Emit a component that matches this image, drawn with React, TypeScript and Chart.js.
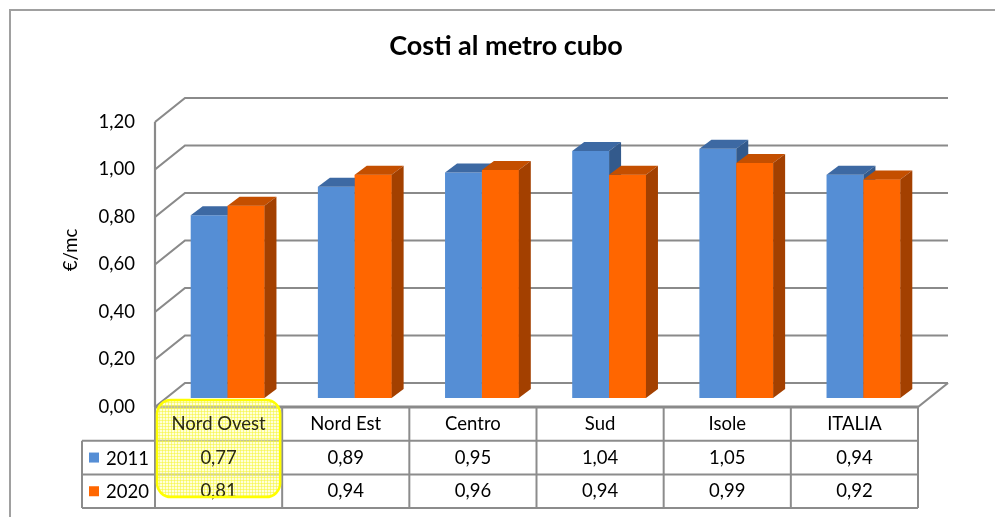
import React, { useEffect, useRef } from 'react';
import { Chart, registerables } from 'chart.js';

Chart.register(...registerables);

// ---- data ----
const categories = ['Nord Ovest', 'Nord Est', 'Centro', 'Sud', 'Isole', 'ITALIA'];
const seriesNames = ['2011', '2020'];
const values2011 = [0.77, 0.89, 0.95, 1.04, 1.05, 0.94];
const values2020 = [0.81, 0.94, 0.96, 0.94, 0.99, 0.92];
const yTicks = [0, 0.2, 0.4, 0.6, 0.8, 1.0, 1.2];
const chartTitle = 'Costi al metro cubo';
const yAxisTitle = '€/mc';

// ---- styles ----
const FONT = 'Lato, "Open Sans", sans-serif';
const frontColors = ['#558ed5', '#ff6600'];
const topColors = ['#3d69a3', '#c44f00'];
const sideColors = ['#335a8c', '#a34000'];
const GRID = '#8a8a8a';
const FRONT_DX = -9, FRONT_DY = 9;
const BACK_DX = 21, BACK_DY = -15;
const BAR_DX = 12, BAR_DY = -9;
const ROW_H = 33.7;

const fmt = (v: number) => v.toFixed(2).replace('.', ',');

function drawFaces(ctx: CanvasRenderingContext2D, bar: any, idx: number) {
  const { x, y, base, width } = bar.getProps(['x', 'y', 'base', 'width'], true);
  const x0 = x - width / 2, x1 = x + width / 2;
  ctx.fillStyle = topColors[idx];
  ctx.beginPath();
  ctx.moveTo(x0, y);
  ctx.lineTo(x1, y);
  ctx.lineTo(x1 + BAR_DX, y + BAR_DY);
  ctx.lineTo(x0 + BAR_DX, y + BAR_DY);
  ctx.closePath();
  ctx.fill();
  ctx.fillStyle = sideColors[idx];
  ctx.beginPath();
  ctx.moveTo(x1, y);
  ctx.lineTo(x1 + BAR_DX, y + BAR_DY);
  ctx.lineTo(x1 + BAR_DX, base + BAR_DY);
  ctx.lineTo(x1, base);
  ctx.closePath();
  ctx.fill();
}

const threeD = {
  id: 'threeD',
  beforeDatasetsDraw(chart: any) {
    const { ctx, chartArea, scales } = chart;
    const y = scales.y;
    ctx.save();
    ctx.strokeStyle = GRID;
    ctx.lineWidth = 2.2;
    const fl = chartArea.left + FRONT_DX, fr = chartArea.right + FRONT_DX;
    const bl = chartArea.left + BACK_DX, br = chartArea.right + BACK_DX;
    yTicks.forEach((v) => {
      const py = y.getPixelForValue(v);
      ctx.beginPath();
      ctx.moveTo(fl, py + FRONT_DY);
      ctx.lineTo(bl, py + BACK_DY);
      ctx.lineTo(br, py + BACK_DY);
      ctx.stroke();
    });
    const yTop = y.getPixelForValue(yTicks[yTicks.length - 1]);
    const y0 = y.getPixelForValue(0);
    ctx.beginPath();
    ctx.moveTo(fl, yTop + FRONT_DY);
    ctx.lineTo(fl, y0 + FRONT_DY);
    ctx.stroke();
    ctx.beginPath();
    ctx.moveTo(fr, y0 + FRONT_DY);
    ctx.lineTo(br, y0 + BACK_DY);
    ctx.stroke();
    ctx.restore();
  },
  afterDatasetsDraw(chart: any) {
    const { ctx } = chart;
    const m0 = chart.getDatasetMeta(0);
    const m1 = chart.getDatasetMeta(1);
    ctx.save();
    m0.data.forEach((bar: any, i: number) => {
      drawFaces(ctx, bar, 0);
      const other = m1.data[i];
      other.draw(ctx, chart.chartArea);
      drawFaces(ctx, other, 1);
    });
    ctx.restore();
  },
  afterDraw(chart: any) {
    const { ctx, chartArea, scales } = chart;
    const { x, y } = scales;
    const y0 = y.getPixelForValue(0);
    const fl = chartArea.left + FRONT_DX, fr = chartArea.right + FRONT_DX;
    const tableTop = y0 + FRONT_DY;
    const catW = x.getPixelForValue(1) - x.getPixelForValue(0);
    const bounds = categories.map((_, i) => x.getPixelForValue(i) - catW / 2 + FRONT_DX);
    bounds.push(fr);
    const legLeft = fl - 73;
    const tableBottom = tableTop + 3 * ROW_H;
    ctx.save();
    // floor front edge
    ctx.strokeStyle = GRID;
    ctx.lineWidth = 3;
    ctx.beginPath();
    ctx.moveTo(fl, tableTop);
    ctx.lineTo(fr, tableTop);
    ctx.stroke();
    // table lines
    ctx.lineWidth = 2;
    ctx.strokeStyle = '#8c8c8c';
    bounds.forEach((bx) => {
      ctx.beginPath();
      ctx.moveTo(bx, tableTop);
      ctx.lineTo(bx, tableBottom);
      ctx.stroke();
    });
    for (let r = 1; r <= 3; r++) {
      const ry = tableTop + r * ROW_H;
      ctx.beginPath();
      ctx.moveTo(legLeft, ry);
      ctx.lineTo(fr, ry);
      ctx.stroke();
    }
    ctx.beginPath();
    ctx.moveTo(legLeft, tableTop + ROW_H);
    ctx.lineTo(legLeft, tableBottom);
    ctx.stroke();
    // highlight fill (under the text)
    const pc = document.createElement('canvas');
    pc.width = 3; pc.height = 3;
    const pctx = pc.getContext('2d')!;
    pctx.fillStyle = 'rgba(255,255,170,0.45)';
    pctx.fillRect(0, 0, 3, 3);
    pctx.fillStyle = 'rgba(245,245,60,0.55)';
    pctx.fillRect(0, 0, 3, 1);
    pctx.fillRect(0, 0, 1, 3);
    const pattern = ctx.createPattern(pc, 'repeat');
    const hx0 = bounds[0] + 2, hx1 = bounds[1] - 2;
    const hy0 = tableTop - 7, hy1 = tableBottom - 11;
    ctx.beginPath();
    ctx.roundRect(hx0, hy0, hx1 - hx0, hy1 - hy0, 14);
    ctx.fillStyle = pattern!;
    ctx.fill();
    // table text
    ctx.font = `18.5px ${FONT}`;
    ctx.textAlign = 'center';
    ctx.textBaseline = 'middle';
    const series = [values2011, values2020];
    categories.forEach((c, i) => {
      const cx = (bounds[i] + bounds[i + 1]) / 2;
      ctx.fillStyle = i === 0 ? '#2b2b10' : '#000';
      ctx.fillText(c, cx, tableTop + ROW_H * 0.5);
      series.forEach((s, si) => {
        ctx.fillText(fmt(s[i]), cx, tableTop + ROW_H * (1.5 + si));
      });
    });
    seriesNames.forEach((n, si) => {
      const cy = tableTop + ROW_H * (1.5 + si);
      ctx.fillStyle = frontColors[si];
      ctx.fillRect(legLeft + 7, cy - 5, 10, 10);
      ctx.fillStyle = '#000';
      ctx.textAlign = 'left';
      ctx.fillText(n, legLeft + 24, cy + 1);
    });
    // highlight border
    ctx.beginPath();
    ctx.roundRect(hx0, hy0, hx1 - hx0, hy1 - hy0, 14);
    ctx.strokeStyle = '#ffff00';
    ctx.lineWidth = 2.5;
    ctx.stroke();
    // axis title
    ctx.save();
    ctx.fillStyle = '#000';
    ctx.translate(71, 250);
    ctx.rotate(-Math.PI / 2);
    ctx.textAlign = 'center';
    ctx.font = `18.5px ${FONT}`;
    ctx.fillText(yAxisTitle, 0, 0);
    ctx.restore();
    // title
    ctx.fillStyle = '#000';
    ctx.font = `bold 27px ${FONT}`;
    ctx.textAlign = 'center';
    ctx.fillText(chartTitle, 506, 46);
    // outer border
    ctx.strokeStyle = '#a0a0a0';
    ctx.lineWidth = 2;
    ctx.beginPath();
    ctx.moveTo(10, 517);
    ctx.lineTo(10, 10);
    ctx.lineTo(995, 10);
    ctx.stroke();
    ctx.restore();
  },
};

export default function App() {
  const ref = useRef<HTMLCanvasElement>(null);
  useEffect(() => {
    const chart = new Chart(ref.current!, {
      type: 'bar',
      data: {
        labels: categories,
        datasets: [
          { label: seriesNames[0], data: values2011, backgroundColor: frontColors[0] },
          { label: seriesNames[1], data: values2020, backgroundColor: frontColors[1] },
        ],
      },
      options: {
        responsive: false,
        animation: false,
        events: [],
        datasets: { bar: { barPercentage: 1, categoryPercentage: 0.58, borderWidth: 0 } },
        layout: { padding: { left: 50, right: 68, top: 113, bottom: 119 } },
        plugins: { legend: { display: false }, title: { display: false }, tooltip: { enabled: false } },
        scales: {
          x: { display: false },
          y: {
            min: 0,
            max: 1.2,
            afterBuildTicks: (s: any) => { s.ticks = yTicks.map((v) => ({ value: v })); },
            afterFit: (s: any) => { s.width = 114; },
            grid: { display: false, drawTicks: false },
            border: { display: false },
            ticks: {
              padding: 29,
              labelOffset: 9,
              color: '#000',
              font: { family: FONT, size: 18.5 },
              callback: (v: any) => fmt(Number(v)),
            },
            title: { display: false },
          },
        },
      },
      plugins: [threeD],
    });
    return () => chart.destroy();
  }, []);
  return (
    <div style={{ position: 'absolute', left: 0, top: 0, width: 995, height: 517, background: '#fff' }}>
      <canvas ref={ref} width={995} height={517} style={{ display: 'block' }} />
    </div>
  );
}
